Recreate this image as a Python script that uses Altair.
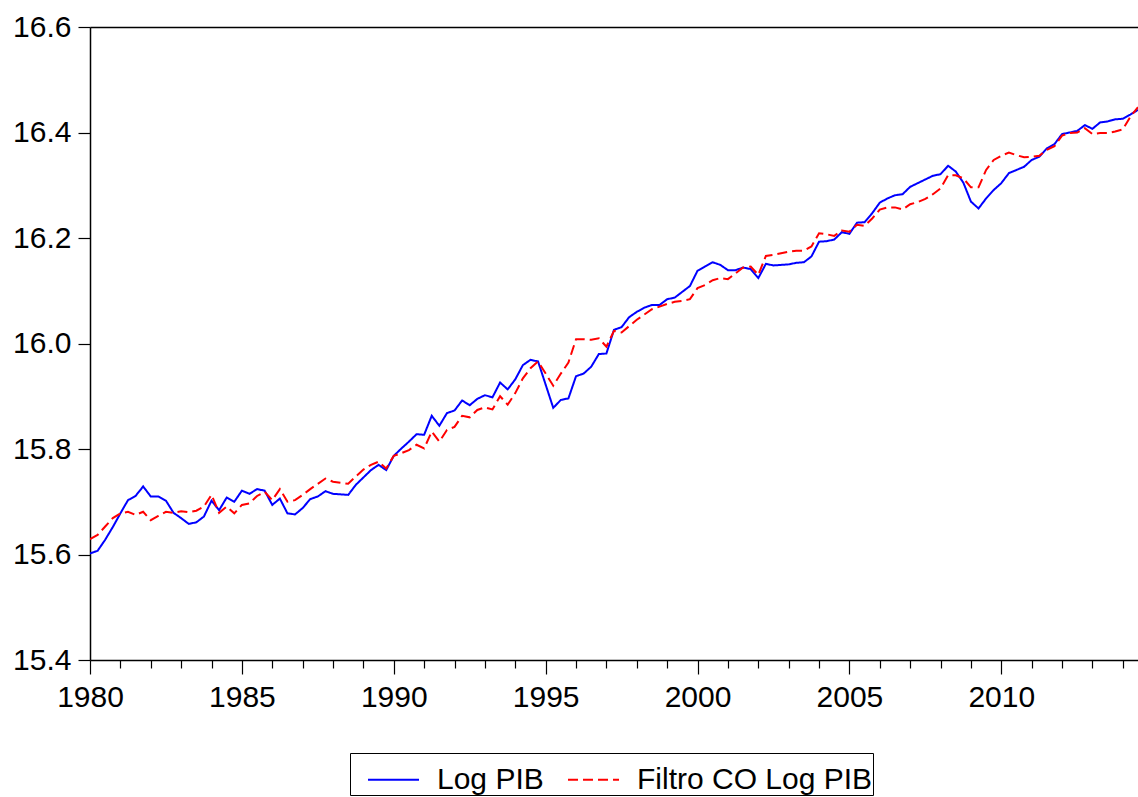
import altair as alt
import pandas as pd

# Quarterly observations 1980Q1 .. 2014Q3
quarters = [1980 + q / 4 for q in range(139)]

log_pib = [
    15.602, 15.607, 15.628, 15.652, 15.678, 15.703, 15.711, 15.729, 15.710, 15.710,
    15.702, 15.679, 15.669, 15.658, 15.661, 15.672, 15.702, 15.684, 15.708, 15.700,
    15.721, 15.715, 15.724, 15.721, 15.694, 15.706, 15.678, 15.676, 15.688, 15.705,
    15.710, 15.720, 15.715, 15.714, 15.713, 15.732, 15.746, 15.760, 15.770, 15.760,
    15.787, 15.801, 15.814, 15.828, 15.827, 15.863, 15.844, 15.868, 15.873, 15.892,
    15.883, 15.895, 15.902, 15.898, 15.926, 15.913, 15.932, 15.959, 15.969, 15.966,
    15.922, 15.878, 15.893, 15.896, 15.938, 15.943, 15.956, 15.980, 15.981, 16.026,
    16.031, 16.050, 16.060, 16.068, 16.073, 16.073, 16.084, 16.087, 16.098, 16.109,
    16.138, 16.146, 16.154, 16.149, 16.139, 16.139, 16.144, 16.141, 16.124, 16.151,
    16.148, 16.149, 16.150, 16.153, 16.154, 16.165, 16.193, 16.194, 16.197, 16.211,
    16.208, 16.229, 16.230, 16.247, 16.267, 16.275, 16.281, 16.283, 16.297, 16.304,
    16.311, 16.318, 16.321, 16.337, 16.326, 16.305, 16.269, 16.256, 16.275, 16.291,
    16.304, 16.323, 16.329, 16.335, 16.348, 16.354, 16.370, 16.378, 16.397, 16.400,
    16.403, 16.414, 16.407, 16.419, 16.421, 16.425, 16.426, 16.434, 16.443,
]

filtro_co = [
    15.629, 15.637, 15.653, 15.669, 15.678, 15.681, 15.675, 15.681, 15.665, 15.673,
    15.681, 15.679, 15.682, 15.680, 15.683, 15.691, 15.713, 15.679, 15.691, 15.678,
    15.694, 15.697, 15.711, 15.719, 15.703, 15.724, 15.700, 15.703, 15.713, 15.724,
    15.734, 15.744, 15.738, 15.736, 15.734, 15.748, 15.761, 15.770, 15.776, 15.763,
    15.787, 15.792, 15.798, 15.808, 15.801, 15.833, 15.814, 15.836, 15.842, 15.863,
    15.860, 15.874, 15.879, 15.875, 15.900, 15.884, 15.906, 15.934, 15.953, 15.966,
    15.943, 15.920, 15.943, 15.964, 16.008, 16.008, 16.007, 16.010, 15.994, 16.024,
    16.021, 16.033, 16.045, 16.055, 16.065, 16.070, 16.075, 16.079, 16.081, 16.084,
    16.105, 16.111, 16.120, 16.124, 16.122, 16.133, 16.144, 16.146, 16.130, 16.166,
    16.168, 16.171, 16.174, 16.176, 16.176, 16.184, 16.209, 16.207, 16.204, 16.214,
    16.212, 16.225, 16.223, 16.237, 16.254, 16.258, 16.258, 16.254, 16.264, 16.268,
    16.274, 16.283, 16.294, 16.319, 16.319, 16.313, 16.296, 16.296, 16.329, 16.348,
    16.356, 16.362, 16.357, 16.353, 16.354, 16.356, 16.367, 16.374, 16.394, 16.399,
    16.400, 16.408, 16.397, 16.399, 16.399, 16.402, 16.406, 16.430, 16.448,
]

series_names = ["Log PIB", "Filtro CO Log PIB"]
series_colors = ["#0000FF", "#FF0000"]
series_dashes = [[1, 0], [10, 5]]
y_ticks = [15.4, 15.6, 15.8, 16.0, 16.2, 16.4, 16.6]
x_ticks = list(range(1980, 2015))

df = pd.DataFrame({
    "t": quarters + quarters,
    "value": log_pib + filtro_co,
    "serie": [series_names[0]] * len(log_pib) + [series_names[1]] * len(filtro_co),
})

FONT = "Liberation Sans"
x_scale = alt.Scale(domain=[1980, 2014.5], nice=False, zero=False)

legend = alt.Legend(
    title=None, orient="none", legendX=260, legendY=726, direction="horizontal",
    symbolType="stroke", symbolSize=2601, symbolStrokeWidth=2,
    labelFontSize=30, labelFont=FONT, labelColor="black", labelLimit=500,
    labelOffset=17, columnPadding=6, padding=0, symbolOffset=17,
    strokeColor="black",
)

lines = alt.Chart(df).mark_line(strokeWidth=2, clip=True).encode(
    x=alt.X(
        "t:Q", scale=x_scale,
        axis=alt.Axis(
            orient="bottom", values=x_ticks, format="d",
            labelExpr="datum.value % 5 === 0 ? datum.label : ''",
            title=None, grid=False,
            tickSize={"condition": {"test": "datum.value % 5 === 0", "value": 14}, "value": 8},
            tickColor="black", tickWidth=1.2,
            labelFontSize=30, labelFont=FONT, labelColor="black", labelPadding=8,
            labelFlush=False, labelOverlap=False,
            domainColor="black", domainWidth=1.5,
        ),
    ),
    y=alt.Y(
        "value:Q", scale=alt.Scale(domain=[15.4, 16.6], nice=False, zero=False),
        axis=alt.Axis(
            values=y_ticks, format=".1f", title=None, grid=False,
            tickSize=12, tickColor="black", tickWidth=1.2,
            labelFontSize=30, labelFont=FONT, labelColor="black", labelPadding=7,
            labelFlush=False, labelOverlap=False,
            domainColor="black", domainWidth=1.5,
        ),
    ),
    color=alt.Color("serie:N", sort=series_names,
                    scale=alt.Scale(domain=series_names, range=series_colors),
                    legend=legend),
    strokeDash=alt.StrokeDash("serie:N", sort=series_names,
                              scale=alt.Scale(domain=series_names, range=series_dashes),
                              legend=legend),
)

top_border = alt.Chart(df).mark_point(opacity=0).encode(
    x=alt.X("t:Q", scale=x_scale,
            axis=alt.Axis(orient="top", labels=False, ticks=False, title=None,
                          grid=False, domainColor="black", domainWidth=1.5)),
)

chart = alt.layer(lines, top_border).resolve_axis(x="independent").properties(
    width=1048, height=633,
    title=alt.TitleParams(
        text="(Serie Log Trimestral)", fontSize=24, fontWeight="bold", font=FONT,
        baseline="alphabetic", offset=29, dx=-37, frame="group", anchor="middle",
        color="black",
    ),
    autosize=alt.AutoSizeParams(type="none"),
    padding={"left": 90, "top": 27, "right": 0, "bottom": 137},
    background="white",
).configure_view(stroke=None)

chart.save("out.html", embed_options={"renderer": "svg", "actions": False})
